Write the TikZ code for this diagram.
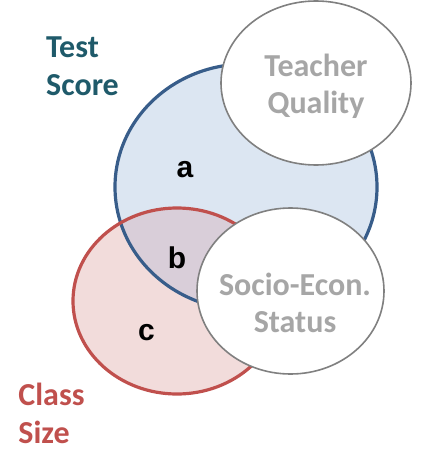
\documentclass[tikz,border=0pt]{standalone}
\usepackage{fontspec}
\setmainfont{Carlito}
\newfontfamily\letterfont{Liberation Sans}
\definecolor{blueline}{HTML}{385D8A}
\definecolor{bluefill}{HTML}{DCE6F2}
\definecolor{redline}{HTML}{C0504D}
\definecolor{redfill}{HTML}{F2DCDB}
\definecolor{overlapfill}{HTML}{D9CED9}
\definecolor{grayline}{HTML}{808080}
\definecolor{graytext}{HTML}{A6A6A6}
\definecolor{tealtext}{HTML}{1F5A6A}
\tikzset{
  setlabel/.style={font=\fontsize{32}{38}\selectfont\bfseries, align=left, inner sep=0pt},
  otherlabel/.style={font=\fontsize{32}{37}\selectfont\bfseries, align=center, inner sep=0pt, text=graytext},
  arealabel/.style={font=\letterfont\fontsize{30}{32}\selectfont\bfseries, anchor=base, inner sep=0pt},
}
\begin{document}
\begin{tikzpicture}[x=1pt,y=-1pt]
\useasboundingbox (0,0) rectangle (423,471);
% fills
\fill[bluefill] (246,187) ellipse [x radius=131pt, y radius=123pt];
\fill[redfill] (177,301) ellipse [x radius=104pt, y radius=93pt];
\begin{scope}
  \clip (177,301) ellipse [x radius=104pt, y radius=93pt];
  \fill[overlapfill] (246,187) ellipse [x radius=131pt, y radius=123pt];
\end{scope}
% outlines
\draw[blueline, line width=3.2pt] (246,187) ellipse [x radius=131pt, y radius=123pt];
\draw[redline, line width=3.2pt] (177,301) ellipse [x radius=104pt, y radius=93pt];
% other variables
\draw[grayline, line width=1.6pt, fill=white] (316,83) ellipse [x radius=95pt, y radius=82pt];
\draw[grayline, line width=1.6pt, fill=white] (290.5,291) ellipse [x radius=93.5pt, y radius=83pt];
% labels
\node[setlabel, text=tealtext] (test) at (82.5,66) {Test\\Score};
\node[setlabel, text=redline] (class) at (51.5,413.5) {Class\\Size};
\node[otherlabel] (teacher) at (316,86) {Teacher\\Quality};
\node[otherlabel] (ses) at (295,303) {Socio-Econ.\\Status};
\node[arealabel] (a) at (185,177) {a};
\node[arealabel] (b) at (177,268) {b};
\node[arealabel] (c) at (146.5,340) {c};
\end{tikzpicture}
\end{document}
